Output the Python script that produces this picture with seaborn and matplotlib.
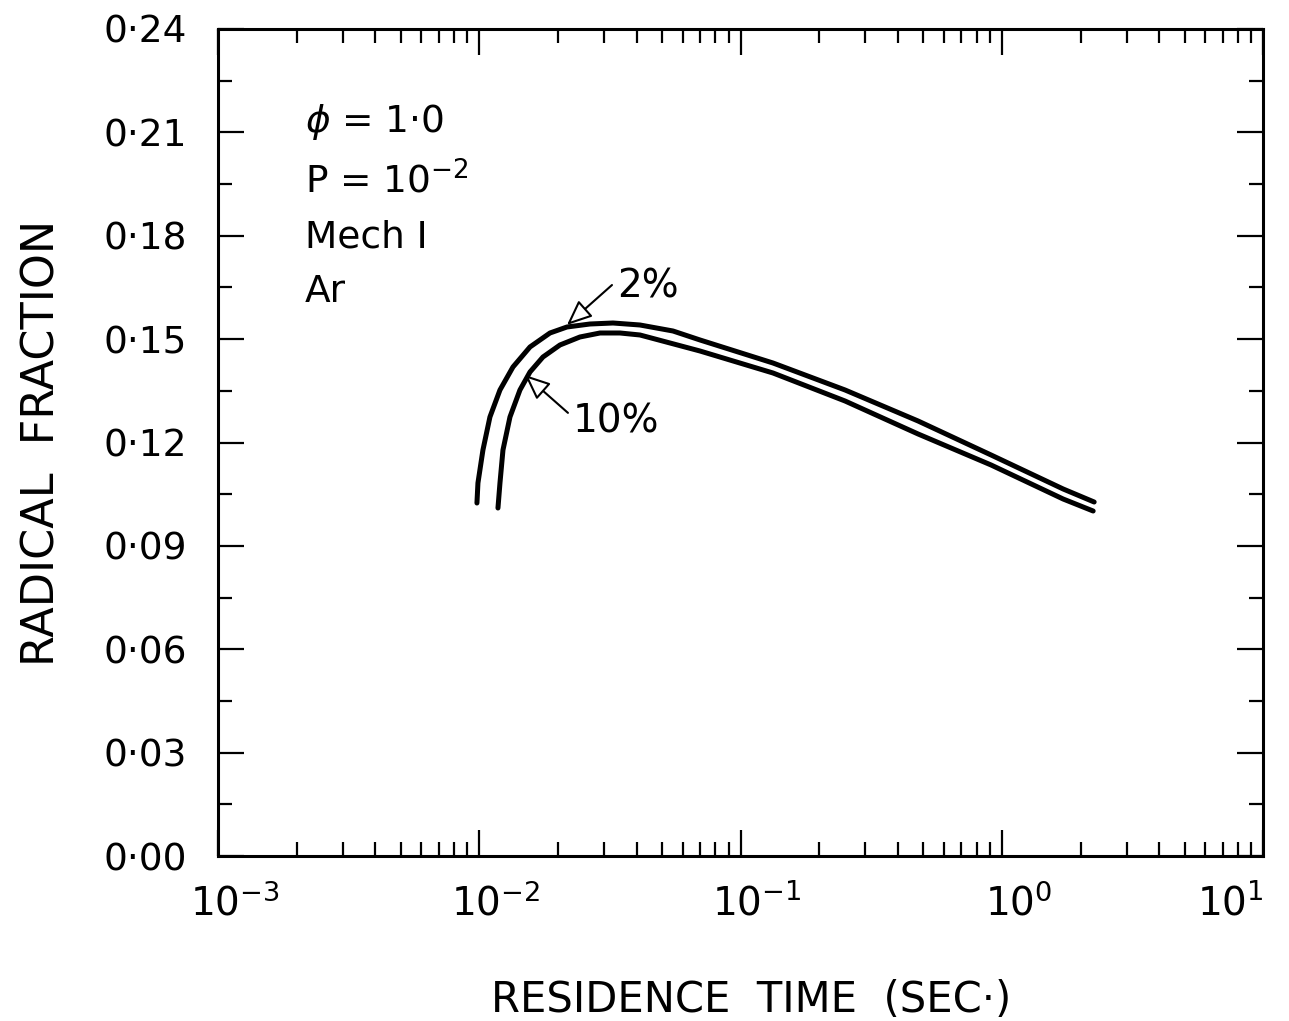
"""Radical fraction vs residence time, recreated with seaborn/matplotlib."""

import matplotlib
matplotlib.use('Agg')
import matplotlib.pyplot as plt
import matplotlib.ticker as mticker
import matplotlib.transforms as mtransforms
import seaborn as sns


# residence time (s) and radical fraction
time_2pct = [0.009804, 0.009891, 0.010336, 0.010993, 0.012009, 0.013466,
             0.015644, 0.018659, 0.021670, 0.026537, 0.032509, 0.041235,
             0.055149, 0.069984, 0.13313, 0.25119, 0.47798, 0.90951,
             1.7159, 2.2549]
frac_2pct = [0.10244, 0.10825, 0.11782, 0.12740, 0.13524, 0.14191,
             0.14772, 0.15178, 0.15352, 0.15439, 0.15468, 0.15410,
             0.15236, 0.14975, 0.14307, 0.13524, 0.12624, 0.11637,
             0.10651, 0.10273]

time_10pct = [0.011799, 0.012009, 0.012331, 0.013115, 0.014321, 0.015644,
              0.017538, 0.020376, 0.024296, 0.028995, 0.034579, 0.041235,
              0.069984, 0.13313, 0.25119, 0.47798, 0.90951, 1.7159, 2.2351]
frac_10pct = [0.10099, 0.10825, 0.11782, 0.12740, 0.13524, 0.14046,
              0.14481, 0.14830, 0.15062, 0.15178, 0.15178, 0.15120,
              0.14655, 0.14017, 0.13204, 0.12247, 0.11347, 0.10360, 0.10012]

y_ticks = [0.00, 0.03, 0.06, 0.09, 0.12, 0.15, 0.18, 0.21, 0.24]
y_ticklabels = ['0·00', '0·03', '0·06', '0·09', '0·12', '0·15', '0·18', '0·21', '0·24']
x_ticks = [1e-3, 1e-2, 1e-1, 1e0, 1e1]
x_ticklabels = [r'$10^{-3}$', r'$10^{-2}$', r'$10^{-1}$', r'$10^{0}$', r'$10^{1}$']

notes = [r'$\phi$ = 1·0', r'P = 10$^{-2}$', 'Mech I', 'Ar']
notes_y = [0.2101, 0.1924, 0.1765, 0.1608]

sns.set_theme(style='white')
plt.rcParams['font.family'] = ['DejaVu Sans']
plt.rcParams['mathtext.fontset'] = 'dejavusans'
for key in ['text.color', 'axes.labelcolor', 'xtick.color', 'ytick.color',
            'axes.edgecolor']:
    plt.rcParams[key] = 'black'

fig = plt.figure(figsize=(12.89, 10.21), dpi=100)
ax = fig.add_axes([0.169, 0.1616, 0.811, 0.81])

sns.lineplot(x=time_2pct, y=frac_2pct, sort=False, estimator=None,
             color='black', lw=3.6, ax=ax)
sns.lineplot(x=time_10pct, y=frac_10pct, sort=False, estimator=None,
             color='black', lw=3.6, ax=ax)

ax.set_xscale('log')
ax.set_xlim(1e-3, 1e1)
ax.set_ylim(0, 0.24)

ax.set_xticks(x_ticks)
ax.set_xticklabels(x_ticklabels, fontsize=28)
ax.xaxis.set_minor_locator(mticker.LogLocator(base=10, subs=range(2, 10)))
ax.xaxis.set_minor_formatter(mticker.NullFormatter())
ax.set_yticks(y_ticks)
ax.set_yticklabels(y_ticklabels, fontsize=27)
ax.yaxis.set_minor_locator(mticker.MultipleLocator(0.015))

ax.tick_params(which='both', direction='in', top=True, right=True,
               bottom=True, left=True, color='black', width=1.6)
ax.tick_params(which='major', length=19)
ax.tick_params(which='minor', length=10)
ax.tick_params(axis='x', which='major', pad=20)
ax.tick_params(axis='y', which='major', pad=22)

# last decade label sits flush with the right frame
shift = mtransforms.ScaledTranslation(12 / 72, 0, fig.dpi_scale_trans)
for lab in ax.get_xticklabels()[:-1]:
    lab.set_transform(lab.get_transform() + shift)
ax.get_xticklabels()[-1].set_ha('right')

for side in ax.spines.values():
    side.set_color('black')
    side.set_linewidth(2.2)

ax.set_xlabel('RESIDENCE  TIME  (SEC·)', fontsize=30)
ax.xaxis.set_label_coords(0.51, -0.149)
ax.set_ylabel('RADICAL  FRACTION', fontsize=32)
ax.yaxis.set_label_coords(-0.148, 0.5)

# condition notes
for txt, yy in zip(notes, notes_y):
    ax.text(0.002153, yy, txt, fontsize=27, va='baseline', ha='left')

# curve labels with open-head arrows
arrow = dict(arrowstyle='-|>,head_length=0.7,head_width=0.3', color='black',
             lw=1.5, fc='white', mutation_scale=22, shrinkA=0, shrinkB=0)
ax.text(0.03368, 0.1654, '2%', fontsize=28, va='center', ha='left')
ax.annotate('', xy=(0.02167, 0.1541), xytext=(0.03222, 0.1657),
            arrowprops=arrow)
ax.text(0.02285, 0.1262, '10%', fontsize=28, va='center', ha='left')
ax.annotate('', xy=(0.01497, 0.1396), xytext=(0.02186, 0.1286),
            arrowprops=arrow)

fig.savefig('out.png', dpi=100)
plt.close(fig)
